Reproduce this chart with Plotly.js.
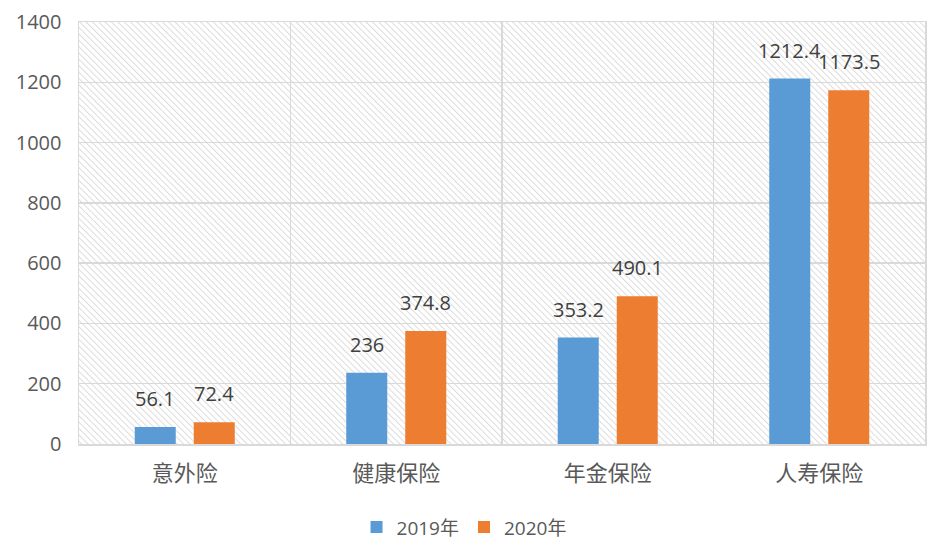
<!DOCTYPE html>
<html><head><meta charset="utf-8">
<script src="https://cdn.plot.ly/plotly-3.0.1.min.js"></script>
<style>html,body{margin:0;padding:0;background:#fff;}</style>
</head><body>
<div id="chart" style="width:947px;height:555px;"></div>
<script>
const categories = ["意外险", "健康保险", "年金保险", "人寿保险"];
const series2019 = [56.1, 236, 353.2, 1212.4];
const series2020 = [72.4, 374.8, 490.1, 1173.5];
const seriesNames = ["2019年", "2020年"];
const yTicks = [0, 200, 400, 600, 800, 1000, 1200, 1400];

const numFont = "'Open Sans', 'Noto Sans CJK SC', sans-serif";
const cjkFont = "'Noto Sans CJK SC', sans-serif";

const svg = '<svg xmlns="http://www.w3.org/2000/svg" width="846" height="422">' +
  '<defs><pattern id="p" width="4.5" height="4.5" patternUnits="userSpaceOnUse" patternTransform="rotate(-45)">' +
  '<rect width="4.5" height="4.5" fill="#ffffff"/><line x1="0" y1="0" x2="0" y2="4.5" stroke="#dcdcdc" stroke-width="2"/></pattern></defs>' +
  '<rect width="846" height="422" fill="url(#p)"/></svg>';
const bg = "data:image/svg+xml;base64," + btoa(svg);

const traces = [
  {type: "bar", name: seriesNames[0], x: categories, y: series2019,
   marker: {color: "#5b9bd5"}, hoverinfo: "none"},
  {type: "bar", name: seriesNames[1], x: categories, y: series2020,
   marker: {color: "#ed7d31"}, hoverinfo: "none"}
];

const annotations = [];
[series2019, series2020].forEach((s, si) => {
  s.forEach((v, i) => {
    annotations.push({x: categories[i], y: v, xref: "x", yref: "y",
      text: String(v), showarrow: false, yanchor: "bottom",
      xshift: si === 0 ? -29.5 : 29.5, yshift: 13,
      font: {family: numFont, size: 20, color: "#404040"}});
  });
});

const layout = {
  width: 947, height: 555,
  margin: {l: 79, r: 22, t: 22, b: 111, autoexpand: false},
  paper_bgcolor: "#ffffff", plot_bgcolor: "rgba(0,0,0,0)",
  barmode: "group", bargap: 0.442, bargroupgap: 0.305,
  showlegend: true,
  legend: {orientation: "h", x: 0.49, xanchor: "center", xref: "container", y: 0.05, yanchor: "middle", yref: "container",
    font: {family: numFont, size: 19, color: "#595959"}, itemwidth: 30, traceorder: "normal"},
  xaxis: {type: "category", tickson: "boundaries", showgrid: true, gridcolor: "#d9d9d9", gridwidth: 1.5,
    showline: true, linecolor: "#d9d9d9", linewidth: 1.5, mirror: true, ticks: "",
    tickfont: {family: cjkFont, size: 22, color: "#595959"}, zeroline: false, ticklabelstandoff: 9},
  yaxis: {range: [0, 1400], tickvals: yTicks, showgrid: true, gridcolor: "#d9d9d9", gridwidth: 1.5,
    showline: true, linecolor: "#d9d9d9", linewidth: 1.5, mirror: true, ticks: "", zeroline: false,
    tickfont: {family: numFont, size: 20, color: "#595959"}, ticklabelstandoff: 12},
  images: [{source: bg, xref: "paper", yref: "paper", x: 0, y: 1, sizex: 1, sizey: 1,
    xanchor: "left", yanchor: "top", sizing: "stretch", layer: "below"}],
  annotations: annotations
};

Plotly.newPlot("chart", traces, layout, {displayModeBar: false, staticPlot: true});
</script>
</body></html>
